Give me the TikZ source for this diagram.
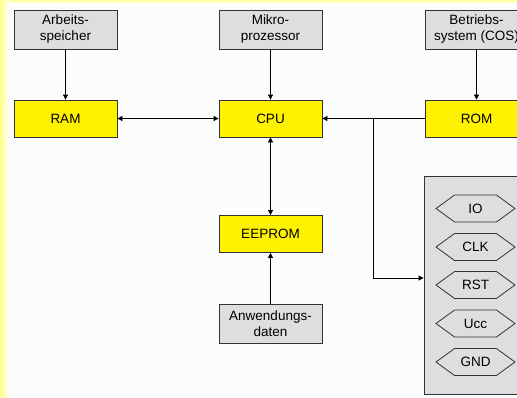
\documentclass[tikz,border=0pt]{standalone}
\usepackage{fontspec}
\setmainfont{Liberation Sans}
\usetikzlibrary{arrows.meta,shapes.symbols}

\tikzset{
  gbox/.style={draw=black!80,line width=0.8pt,fill=black!13,minimum width=103pt,minimum height=39pt,inner sep=0pt,align=center,font=\fontsize{13.5}{16}\selectfont},
  ybox/.style={draw=black!80,line width=0.8pt,fill=yellow,minimum width=103pt,minimum height=37pt,inner sep=0pt,font=\fontsize{13.5}{16}\selectfont},
  pin/.style={signal,signal to=west and east,signal pointer angle=72,draw=black!80,line width=0.8pt,fill=black!13,minimum width=79pt,minimum height=27pt,inner sep=0pt,font=\fontsize{13.5}{16}\selectfont},
  conn/.style={line width=0.8pt,-{Triangle[length=5pt,width=5pt]}},
  bconn/.style={line width=0.8pt,{Triangle[length=5pt,width=5pt]}-{Triangle[length=5pt,width=5pt]}}
}

\begin{document}
\begin{tikzpicture}[x=1pt,y=-1pt]
		\useasboundingbox (0,0) rectangle (517,397);
		\clip (0,0) rectangle (517,397);
		% background
		\fill [black!1] (0,0) rectangle (517,397);
		\shade [left color=yellow!45,right color=yellow!8] (0,0) rectangle (8,397);
		\shade [top color=yellow!35,bottom color=yellow!10] (8,0) rectangle (517,3);
		% sources
		\node [gbox] (arb) at (65.5,29.5) {Arbeits-\\speicher};
		\node [gbox] (mik) at (270.5,29.5) {Mikro-\\prozessor};
		\node [gbox] (bet) at (476.5,29.5) {Betriebs-\\system (COS)};
		\node [gbox] (anw) at (270.5,324) {Anwendungs-\\daten};
		% memories
		\node [ybox] (ram) at (65.5,118.5) {RAM};
		\node [ybox] (cpu) at (270.5,118.5) {CPU};
		\node [ybox] (rom) at (476.5,118.5) {ROM};
		\node [ybox] (eep) at (270.5,234) {EEPROM};
		% contacts
		\node [draw=black!80,line width=0.8pt,fill=black!13,minimum width=104pt,minimum height=218pt,inner sep=0pt] (panel) at (476,285) {};
		\node [pin] (io) at (475.5,208.5) {IO};
		\node [pin] (clk) at (475.5,247) {CLK};
		\node [pin] (rst) at (475.5,285) {RST};
		\node [pin] (ucc) at (475.5,323.5) {Ucc};
		\node [pin] (gnd) at (475.5,362) {GND};
		% connectors
		\draw [conn] (arb) -- (ram);
		\draw [conn] (mik) -- (cpu);
		\draw [conn] (bet) -- (rom);
		\draw [conn] (anw) -- (eep);
		\draw [bconn] (ram) -- (cpu);
		\draw [bconn] (cpu) -- (eep);
		\draw [conn] (rom) -- (cpu);
		\coordinate (branch) at (373,118.5);
		\coordinate (tip) at (panel.west |- 0,278);
		\draw [conn] (branch) |- (tip);
	\end{tikzpicture}
\end{document}
